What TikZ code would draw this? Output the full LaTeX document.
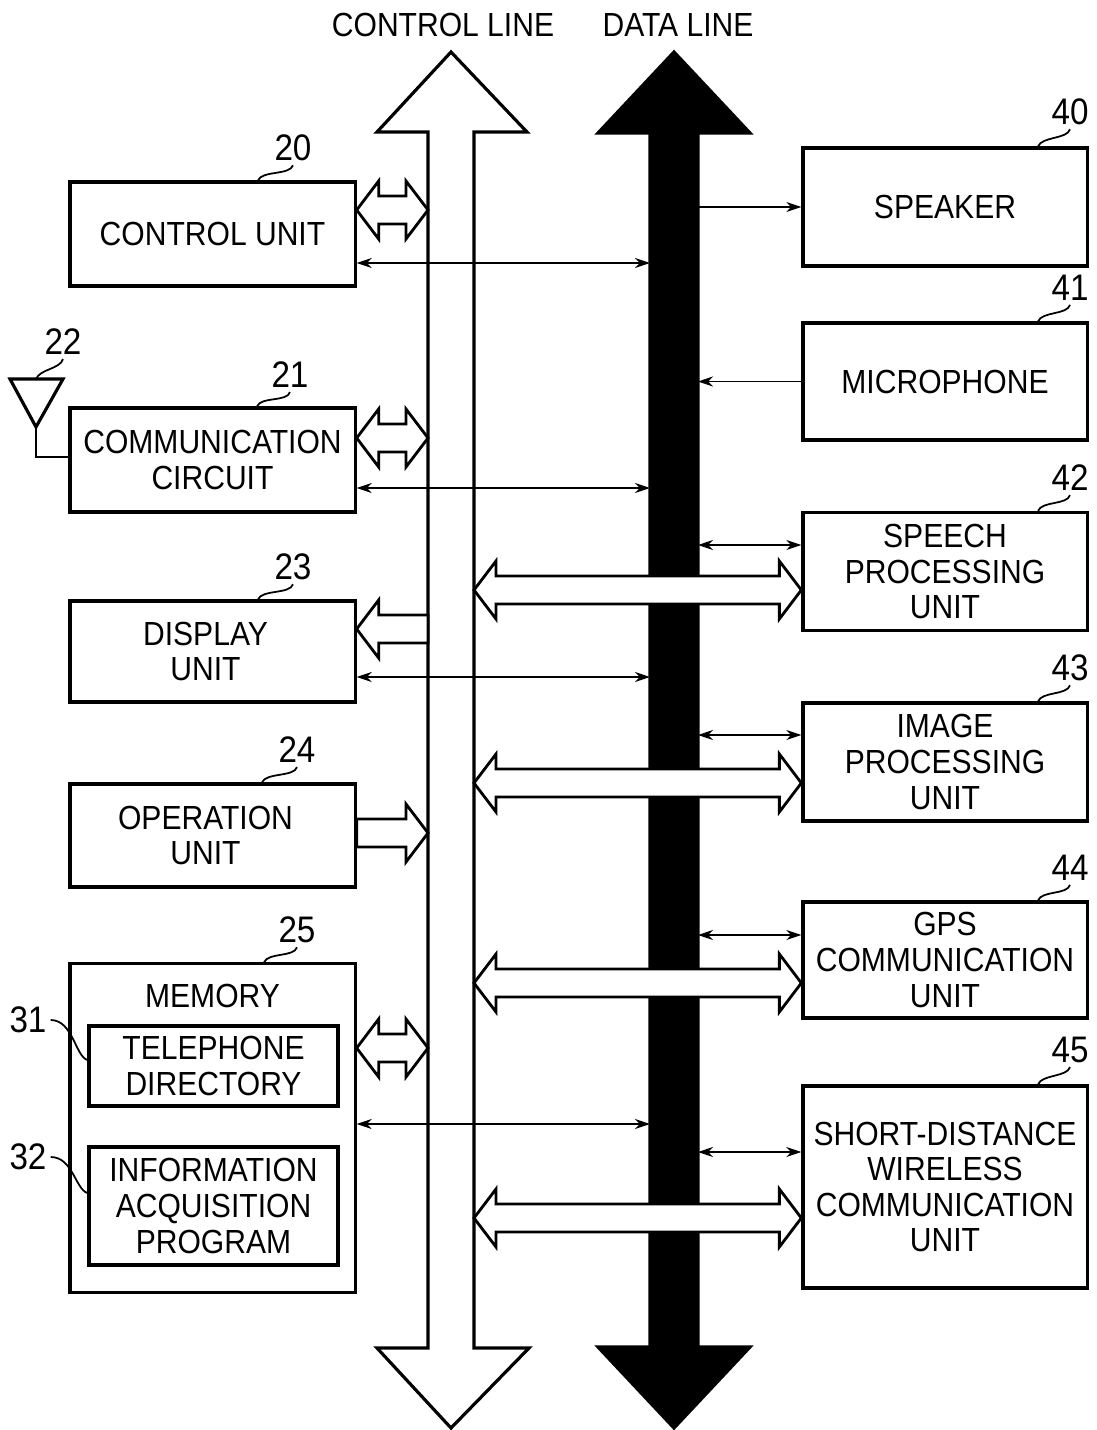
\documentclass[tikz,border=0pt]{standalone}
\usepackage{fontspec}
\setmainfont{Liberation Sans}[FakeStretch=0.9]
\usetikzlibrary{arrows.meta,calc}

\tikzset{
  box/.style={draw, line width=0.9pt, minimum width=2.85cm, align=center, inner sep=0pt},
  rbox/.style={box, minimum width=2.84cm},
  numlabel/.style={font=\fontsize{10.5}{12}\selectfont, inner sep=1pt},
  leadline/.style={line width=0.5pt},
  thinarrow/.style={line width=0.55pt, -{Stealth[length=0.15cm,width=0.1cm]}},
  thinboth/.style={line width=0.55pt, {Stealth[length=0.15cm,width=0.1cm]}-{Stealth[length=0.15cm,width=0.1cm]}},
  fat/.style={draw, fill=white, line width=0.8pt, line join=miter},
  bus/.style={draw, line width=0.9pt, line join=miter},
}

% hollow block arrows, head at both ends / head at #2 only
\newcommand{\fatboth}[2]{%
  \coordinate (fa) at (#1);
  \coordinate (fb) at (#2);
  \draw[fat] (fa) -- ($(fa)+(22,-29)$) -- ($(fa)+(22,-14)$) -- ($(fb)+(-22,-14)$)
    -- ($(fb)+(-22,-29)$) -- (fb) -- ($(fb)+(-22,29)$) -- ($(fb)+(-22,14)$)
    -- ($(fa)+(22,14)$) -- ($(fa)+(22,29)$) -- cycle;}
\newcommand{\fatone}[3]{%
  \coordinate (fa) at (#1);
  \coordinate (fb) at (#2);
  \draw[fat] ($(fa)+(0,-14)$) -- ($(fb)+({-22*(#3)},-14)$) -- ($(fb)+({-22*(#3)},-29)$)
    -- (fb) -- ($(fb)+({-22*(#3)},29)$) -- ($(fb)+({-22*(#3)},14)$) -- ($(fa)+(0,14)$) -- cycle;}

\begin{document}
\begin{tikzpicture}[x=0.01cm, y=-0.01cm, font=\fontsize{9.5}{10.1}\selectfont]
  \useasboundingbox (0,0) rectangle (1097,1430);

  % the two buses
  \node (ctltitle) at (443,25) {CONTROL LINE};
  \node (dattitle) at (678,25) {DATA LINE};
  \draw[bus, fill=white] (451,52) -- (527,132) -- (474,132) -- (474,1348) -- (529,1348)
    -- (451,1428) -- (377,1348) -- (428,1348) -- (428,132) -- (377,132) -- cycle;
  \draw[bus, fill=black] (674,52) -- (750,133) -- (698,133) -- (698,1347) -- (750,1347)
    -- (674,1428) -- (598,1347) -- (650,1347) -- (650,133) -- (598,133) -- cycle;
  \coordinate (ctlL) at (428,0);
  \coordinate (ctlR) at (474,0);
  \coordinate (datL) at (650,0);
  \coordinate (datR) at (698,0);

  % left blocks
  \node[box, minimum height=1.04cm] (cu) at (212.5,234) {CONTROL UNIT};
  \node[box, minimum height=1.04cm] (cc) at (212.5,460) {COMMUNICATION\\CIRCUIT};
  \node[box, minimum height=1.01cm] (du) at (212.5,651.5) {\hspace*{-0.14cm}DISPLAY\\\hspace*{-0.14cm}UNIT};
  \node[box, minimum height=1.03cm] (ou) at (212.5,835.5) {\hspace*{-0.14cm}OPERATION\\\hspace*{-0.14cm}UNIT};
  \node[box, minimum height=3.28cm, label={[anchor=north, yshift=-0.09cm]north:MEMORY}] (mem) at (212.5,1128) {};
  \node[box, minimum width=2.49cm, minimum height=0.8cm] (tel) at (213.5,1066) {TELEPHONE\\DIRECTORY};
  \node[box, minimum width=2.49cm, minimum height=1.18cm] (prog) at (213.5,1206) {INFORMATION\\ACQUISITION\\PROGRAM};

  % right blocks
  \node[rbox, minimum height=1.18cm] (spk) at (945,207) {SPEAKER};
  \node[rbox, minimum height=1.17cm] (mic) at (945,381.5) {MICROPHONE};
  \node[rbox, minimum height=1.18cm] (spu) at (945,571.5) {SPEECH\\PROCESSING\\UNIT};
  \node[rbox, minimum height=1.18cm] (ipu) at (945,762) {IMAGE\\PROCESSING\\UNIT};
  \node[rbox, minimum height=1.16cm] (gps) at (945,960) {GPS\\COMMUNICATION\\UNIT};
  \node[rbox, minimum height=2.02cm] (sdw) at (945,1187) {SHORT-DISTANCE\\WIRELESS\\COMMUNICATION\\UNIT};

  % antenna
  \coordinate (anttop) at (36,379);
  \coordinate (ant) at (36,427);
  \draw[line width=0.9pt, line join=miter] (10,379) -- (63,379) -- (ant) -- cycle;
  \draw[line width=0.8pt] (ant) |- (cc.west |- 0,457);

  % reference numerals
  \node[numlabel] (n20) at (293,148) {20};
  \node[numlabel] (n21) at (290,375) {21};
  \node[numlabel] (n22) at (63,342) {22};
  \node[numlabel] (n23) at (293,567) {23};
  \node[numlabel] (n24) at (297,750) {24};
  \node[numlabel] (n25) at (297,930) {25};
  \node[numlabel] (n31) at (28,1020) {31};
  \node[numlabel] (n32) at (28,1157) {32};
  \node[numlabel] (n40) at (1070,112) {40};
  \node[numlabel] (n41) at (1070,288) {41};
  \node[numlabel] (n42) at (1070,478) {42};
  \node[numlabel] (n43) at (1070,668) {43};
  \node[numlabel] (n44) at (1070,868) {44};
  \node[numlabel] (n45) at (1070,1050) {45};

  \draw[leadline] (n20.south) .. controls +(-3,10) and +(4,-10) .. (cu.north -| 258,0);
  \draw[leadline] (n21.south) .. controls +(-3,10) and +(4,-10) .. (cc.north -| 257,0);
  \draw[leadline] (n22.south) .. controls +(-3,10) and +(4,-10) .. (anttop);
  \draw[leadline] (n23.south) .. controls +(-3,10) and +(4,-10) .. (du.north -| 258,0);
  \draw[leadline] (n24.south) .. controls +(-3,10) and +(4,-10) .. (ou.north -| 262,0);
  \draw[leadline] (n25.south) .. controls +(-3,10) and +(4,-10) .. (mem.north -| 264,0);
  \draw[leadline] (n31.east) .. controls +(22,0) and +(-12,-4) .. (tel.west |- 0,1060);
  \draw[leadline] (n32.east) .. controls +(22,0) and +(-12,-4) .. (prog.west |- 0,1193);
  \foreach \n/\b in {40/spk,41/mic,42/spu,43/ipu,44/gps,45/sdw}
    \draw[leadline] (n\n.south) .. controls +(-3,10) and +(4,-10) .. (\b.north -| 1038,0);

  % control line connections
  \fatboth{cu.east |- 0,210}{ctlL |- 0,210}
  \fatboth{cc.east |- 0,438}{ctlL |- 0,438}
  \fatone{ctlL |- 0,629}{du.east |- 0,629}{-1}
  \fatone{ou.east |- 0,833}{ctlL |- 0,833}{1}
  \fatboth{mem.east |- 0,1048}{ctlL |- 0,1048}
  \fatboth{ctlR |- 0,590}{spu.west |- 0,590}
  \fatboth{ctlR |- 0,783}{ipu.west |- 0,783}
  \fatboth{ctlR |- 0,983}{gps.west |- 0,983}
  \fatboth{ctlR |- 0,1218}{sdw.west |- 0,1218}

  % data line connections
  \draw[thinboth] (cu.east |- 0,263) -- (datL |- 0,263);
  \draw[thinboth] (cc.east |- 0,488) -- (datL |- 0,488);
  \draw[thinboth] (du.east |- 0,677) -- (datL |- 0,677);
  \draw[thinboth] (mem.east |- 0,1124) -- (datL |- 0,1124);
  \draw[thinarrow] (datR |- spk.west) -- (spk.west);
  \draw[thinarrow] (mic.west) -- (datR |- mic.west);
  \draw[thinboth] (datR |- 0,545) -- (spu.west |- 0,545);
  \draw[thinboth] (datR |- 0,735) -- (ipu.west |- 0,735);
  \draw[thinboth] (datR |- 0,935) -- (gps.west |- 0,935);
  \draw[thinboth] (datR |- 0,1152) -- (sdw.west |- 0,1152);
\end{tikzpicture}
\end{document}
